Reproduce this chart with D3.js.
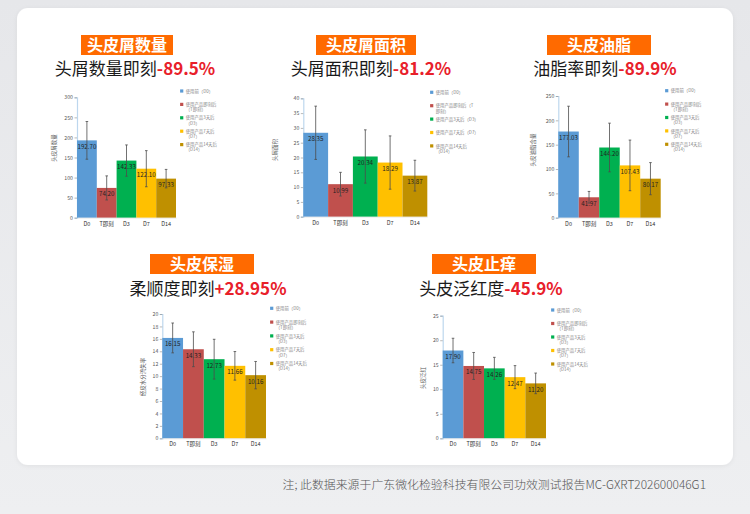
<!DOCTYPE html>
<html><head><meta charset="utf-8">
<script src="https://cdn.jsdelivr.net/npm/d3@7"></script>
<style>html,body{margin:0;padding:0;background:#eaebed;}svg{display:block;}</style>
</head><body>
<svg id="c" width="750" height="514"></svg>
<script>
// ---------- DATA ----------
const categories = ["D0", "T即刻", "D3", "D7", "D14"];
const legendLabels = ["使用前（D0）", "使用产品即刻后（T即刻）", "使用产品3天后（D3）", "使用产品7天后（D7）", "使用产品14天后（D14）"];
const chartTags = ["头皮屑数量", "头皮屑面积", "头皮油脂", "头皮保湿", "头皮止痒"];
const chartHeads = ["头屑数量即刻", "头屑面积即刻", "油脂率即刻", "柔顺度即刻", "头皮泛红度"];
const chartChanges = ["-89.5%", "-81.2%", "-89.9%", "+28.95%", "-45.9%"];
const yTitles = ["头皮屑数量", "头屑面积", "头皮油脂含量", "经皮水分流失率", "头皮泛红"];

const dandruffCount = [192.70, 74.20, 142.33, 122.10, 97.33];
const dandruffCountErr = [47, 30, 39, 45, 23];
const dandruffArea = [28.35, 10.99, 20.34, 18.29, 13.87];
const dandruffAreaErr = [9, 4, 9, 9, 5.2];
const oilContent = [177.03, 41.97, 144.20, 107.43, 80.17];
const oilContentErr = [52, 12, 50, 52, 33];
const waterLoss = [16.15, 14.33, 12.73, 11.66, 10.16];
const waterLossErr = [2.4, 2.8, 3.2, 2.3, 2.2];
const redness = [17.90, 14.75, 14.26, 12.47, 11.20];
const rednessErr = [2.5, 2.75, 2.25, 2.35, 2.1];

const yMaxes = [300, 40, 250, 20, 25];
const yTickSteps = [50, 5, 50, 2, 5];

const footnote = "注; 此数据来源于广东微化检验科技有限公司功效测试报告MC-GXRT202600046G1";

// ---------- STYLE / LAYOUT ----------
const barColors = ["#5b9bd5", "#c0504d", "#00b050", "#ffc000", "#bf9000"];
const FONT = "'Noto Sans CJK SC','Noto Sans',sans-serif";
const orange = "#ff6a00";
const red = "#e8202a";

const values = [dandruffCount, dandruffArea, oilContent, waterLoss, redness];
const errors = [dandruffCountErr, dandruffAreaErr, oilContentErr, waterLossErr, rednessErr];

const layouts = [
  {x0: 77, x1: 176, yTop: 97.3, yBot: 217.7, lx: 181.7, ly: 91, lstep: 13.4, tx: 56, ty: 148,
   box: [81, 35, 92, 20], hx: 135, hy: 75, wrap: [false, true, true, true, true]},
  {x0: 303.3, x1: 427.3, yTop: 98.3, yBot: 216.7, lx: 431.7, ly: 92.3, lstep: 13.4, tx: 277, ty: 150,
   box: [316, 35, 100, 20], hx: 371, hy: 75, wrap: [false, "T", false, false, true]},
  {x0: 558.3, x1: 660.7, yTop: 96, yBot: 217.7, lx: 666.7, ly: 90.7, lstep: 13.4, tx: 535, ty: 150,
   box: [547, 35, 104, 20], hx: 605, hy: 75, wrap: [false, true, true, true, true]},
  {x0: 162.3, x1: 266, yTop: 314, yBot: 438.3, lx: 271.7, ly: 308.3, lstep: 13.8, tx: 145, ty: 377,
   box: [150, 254, 104, 20], hx: 208, hy: 295, wrap: [false, true, true, true, true]},
  {x0: 442.7, x1: 546, yTop: 315.7, yBot: 438.3, lx: 552.7, ly: 310, lstep: 13.5, tx: 425, ty: 378,
   box: [432, 254, 104, 20], hx: 491, hy: 295, wrap: [false, true, true, true, true]}
];

const svg = d3.select("#c");

// background
const defs = svg.append("defs");
const bg = defs.append("linearGradient").attr("id", "bg").attr("x1", 0).attr("y1", 0).attr("x2", 0).attr("y2", 1);
bg.append("stop").attr("offset", 0).attr("stop-color", "#e6e7ea");
bg.append("stop").attr("offset", 1).attr("stop-color", "#eeeff1");
const sh = defs.append("filter").attr("id", "sh").attr("x", -0.05).attr("y", -0.05).attr("width", 1.1).attr("height", 1.1);
sh.append("feDropShadow").attr("dx", 0).attr("dy", 1).attr("stdDeviation", 2).attr("flood-color", "#000").attr("flood-opacity", 0.06);

svg.append("rect").attr("width", 750).attr("height", 514).attr("fill", "url(#bg)");
svg.append("rect").attr("x", 17).attr("y", 8).attr("width", 716).attr("height", 457).attr("rx", 11)
  .attr("fill", "#fff").attr("filter", "url(#sh)");

function wrapLegend(label, mode) {
  if (mode === true) {
    const i = label.indexOf("（");
    return [label.slice(0, i), label.slice(i)];
  } else if (mode === "T") {
    const i = label.indexOf("（") + 2;
    return [label.slice(0, i), label.slice(i)];
  }
  return [label];
}

layouts.forEach((L, ci) => {
  const g = svg.append("g");
  // header tag
  g.append("rect").attr("x", L.box[0]).attr("y", L.box[1]).attr("width", L.box[2]).attr("height", L.box[3]).attr("fill", orange);
  g.append("text").attr("x", L.box[0] + L.box[2] / 2).attr("y", L.box[1] + L.box[3] / 2 + 5.6)
    .attr("text-anchor", "middle").attr("font-family", FONT).attr("font-size", 16).attr("font-weight", 700)
    .attr("fill", "#fff").text(chartTags[ci]);
  const ht = g.append("text").attr("x", L.hx).attr("y", L.hy).attr("text-anchor", "middle")
    .attr("font-family", FONT).attr("font-size", 17);
  ht.append("tspan").attr("fill", "#1a1a1a").attr("font-weight", 400).text(chartHeads[ci]);
  ht.append("tspan").attr("fill", red).attr("font-weight", 700).text(chartChanges[ci]);

  // scales
  const x = d3.scaleBand().domain(categories).range([L.x0, L.x1]).padding(0);
  const y = d3.scaleLinear().domain([0, yMaxes[ci]]).range([L.yBot, L.yTop]);
  const ticks = d3.range(0, yMaxes[ci] + 1e-9, yTickSteps[ci]);

  // y axis
  const ya = g.append("g").attr("transform", `translate(${L.x0},0)`)
    .call(d3.axisLeft(y).tickValues(ticks).tickSize(2.5).tickPadding(1.5).tickFormat(d3.format("d")));
  ya.select(".domain").attr("stroke", "#bdd7ee").attr("stroke-width", 1.2);
  ya.selectAll(".tick line").attr("stroke", "#8c8c8c").attr("stroke-width", 0.6);
  ya.selectAll(".tick text").attr("font-size", 5.2).attr("font-family", FONT).attr("fill", "#595959");

  // bars
  const data = categories.map((c, i) => ({c, v: values[ci][i], e: errors[ci][i], color: barColors[i]}));
  g.selectAll(".bar").data(data).enter().append("rect")
    .attr("x", d => x(d.c)).attr("width", x.bandwidth())
    .attr("y", d => y(d.v)).attr("height", d => y(0) - y(d.v)).attr("fill", d => d.color);

  // x axis labels
  const xa = g.append("g").attr("transform", `translate(0,${L.yBot})`)
    .call(d3.axisBottom(x).tickSize(0).tickPadding(4));
  xa.select(".domain").attr("stroke", "#d9d9d9").attr("stroke-width", 0.5);
  xa.selectAll(".tick text").attr("font-size", 5.5).attr("font-family", FONT).attr("fill", "#333");

  // value labels
  g.selectAll(".vl").data(data).enter().append("text")
    .attr("x", d => x(d.c) + x.bandwidth() / 2).attr("y", d => y(d.v) + 8.5)
    .attr("text-anchor", "middle").attr("font-family", FONT).attr("font-size", 6.2).attr("fill", "#1f1f1f")
    .text(d => d3.format(".2f")(d.v));

  // error bars
  const eb = g.selectAll(".eb").data(data).enter().append("g").attr("stroke", "#4d4d4d").attr("stroke-width", 0.8);
  eb.append("line").attr("x1", d => x(d.c) + x.bandwidth() / 2).attr("x2", d => x(d.c) + x.bandwidth() / 2)
    .attr("y1", d => y(d.v + d.e)).attr("y2", d => y(d.v - d.e));
  eb.append("line").attr("x1", d => x(d.c) + x.bandwidth() / 2 - 1.3).attr("x2", d => x(d.c) + x.bandwidth() / 2 + 1.3)
    .attr("y1", d => y(d.v + d.e)).attr("y2", d => y(d.v + d.e));
  eb.append("line").attr("x1", d => x(d.c) + x.bandwidth() / 2 - 1.3).attr("x2", d => x(d.c) + x.bandwidth() / 2 + 1.3)
    .attr("y1", d => y(d.v - d.e)).attr("y2", d => y(d.v - d.e));

  // y title
  g.append("text").attr("transform", `translate(${L.tx},${L.ty}) rotate(-90)`)
    .attr("text-anchor", "middle").attr("font-family", FONT).attr("font-size", 5.5).attr("fill", "#595959")
    .text(yTitles[ci]);

  // legend
  legendLabels.forEach((lab, i) => {
    const yy = L.ly + i * L.lstep;
    g.append("rect").attr("x", L.lx - 1.6).attr("y", yy - 1.6).attr("width", 3.2).attr("height", 3.2).attr("fill", barColors[i]);
    const lines = wrapLegend(lab, L.wrap[i]);
    const t = g.append("text").attr("font-family", FONT).attr("font-size", 4.4).attr("fill", "#7f7f7f");
    lines.forEach((ln, k) => {
      t.append("tspan").attr("x", L.lx + 4).attr("y", yy + 1.6 + k * 5.2).text(ln);
    });
  });
});

// footnote
svg.append("text").attr("x", 706).attr("y", 489).attr("text-anchor", "end")
  .attr("font-family", FONT).attr("font-size", 11.9).attr("font-weight", 300).attr("fill", "#555").text(footnote);
</script>
</body></html>
